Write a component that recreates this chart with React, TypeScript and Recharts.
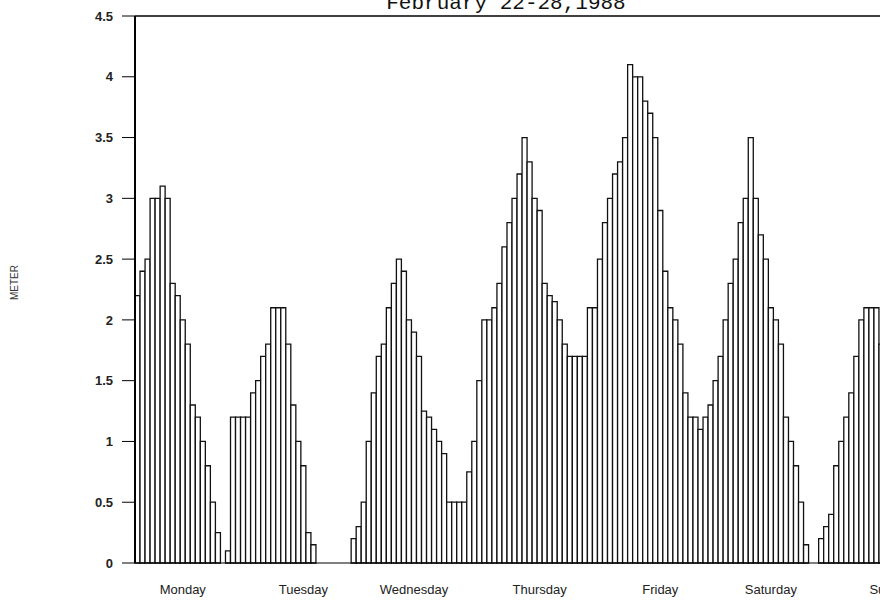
import React from 'react';
import { BarChart, Bar, XAxis, YAxis, ReferenceLine } from 'recharts';

// hourly water level readings, Monday 00h onward
const hourlyLevels = [
    2.2, 2.4, 2.5, 3.0, 3.0, 3.1, 3.0, 2.3, 2.2, 2.0, 1.8, 1.3, 1.2, 1.0, 0.8, 0.5, 0.25, 0, 0.1, 1.2,
    1.2, 1.2, 1.2, 1.4, 1.5, 1.7, 1.8, 2.1, 2.1, 2.1, 1.8, 1.3, 1.0, 0.8, 0.25, 0.15, 0, 0, 0, 0,
    0, 0, 0, 0.2, 0.3, 0.5, 1.0, 1.4, 1.7, 1.8, 2.1, 2.3, 2.5, 2.4, 2.0, 1.9, 1.7, 1.25, 1.2, 1.1,
    1.0, 0.9, 0.5, 0.5, 0.5, 0.5, 0.75, 1.0, 1.5, 2.0, 2.0, 2.1, 2.3, 2.6, 2.8, 3.0, 3.2, 3.5, 3.3, 3.0,
    2.9, 2.3, 2.2, 2.15, 2.0, 1.8, 1.7, 1.7, 1.7, 1.7, 2.1, 2.1, 2.5, 2.8, 3.0, 3.2, 3.3, 3.5, 4.1, 4.0,
    4.0, 3.8, 3.7, 3.5, 2.9, 2.4, 2.1, 2.0, 1.8, 1.4, 1.2, 1.2, 1.1, 1.2, 1.3, 1.5, 1.7, 2.0, 2.3, 2.5,
    2.8, 3.0, 3.5, 3.0, 2.7, 2.5, 2.1, 2.0, 1.8, 1.2, 1.0, 0.8, 0.5, 0.15, 0, 0, 0.2, 0.3, 0.4, 0.8,
    1.0, 1.2, 1.4, 1.7, 2.0, 2.1, 2.1, 2.1, 1.8,
];

const dayNames = ['Monday', 'Tuesday', 'Wednesday', 'Thursday', 'Friday', 'Saturday', 'Sunday'];
const dayTickHours = [9, 33, 55, 80, 104, 126, 146];

const meterTicks = [0, 0.5, 1, 1.5, 2, 2.5, 3, 3.5, 4, 4.5];

const title = 'February 22-28,1988';

const data = hourlyLevels.map((level, hour) => ({ hour, level }));

const DayTick = (props: any) => {
    const { x, y, payload } = props;
    const k = dayTickHours.indexOf(payload.value);
    if (k < 0) return <g />;
    const last = k === dayNames.length - 1;
    return (
        <text
            x={last ? x - 2 : x}
            y={y + 23}
            textAnchor={last ? 'start' : 'middle'}
            fontSize={13}
            fontFamily="Liberation Sans, Arial, sans-serif"
            fill="#222"
        >
            {dayNames[k]}
        </text>
    );
};

const App = () => {
    return (
        <div style={{ position: 'absolute', left: 0, top: 0, width: 880, height: 601, overflow: 'hidden', background: '#fff' }}>
            <svg width={880} height={30} style={{ position: 'absolute', left: 0, top: 0 }}>
                <text x={506} y={9} textAnchor="middle" fontSize={21} fontFamily="Liberation Mono, monospace" fill="#111">
                    {title}
                </text>
            </svg>
            <BarChart
                width={890}
                height={601}
                data={data}
                margin={{ top: 16, right: 6, bottom: 8, left: 0 }}
                barCategoryGap={0}
                barGap={0}
            >
                <XAxis
                    dataKey="hour"
                    type="category"
                    interval={0}
                    height={30}
                    tickLine={false}
                    axisLine={{ stroke: '#000' }}
                    tick={<DayTick />}
                />
                <YAxis
                    width={135}
                    domain={[0, 4.5]}
                    ticks={meterTicks}
                    interval={0}
                    tickSize={13}
                    tickMargin={9}
                    axisLine={{ stroke: '#000', strokeWidth: 2 }}
                    tickLine={{ stroke: '#000' }}
                    tick={{ fontSize: 13, fontWeight: 'bold', fill: '#222', fontFamily: 'Liberation Sans, Arial, sans-serif' }}
                    label={{
                        value: 'METER',
                        angle: -90,
                        position: 'insideLeft',
                        offset: 14,
                        dy: -7,
                        style: { fontSize: 10, fill: '#333', textAnchor: 'middle', fontFamily: 'Liberation Sans, Arial, sans-serif' },
                    }}
                />
                <ReferenceLine y={4.5} stroke="#000" strokeWidth={1.5} />
                <Bar dataKey="level" fill="#fff" stroke="#111" strokeWidth={1.3} isAnimationActive={false} />
            </BarChart>
        </div>
    );
};

export default App;
